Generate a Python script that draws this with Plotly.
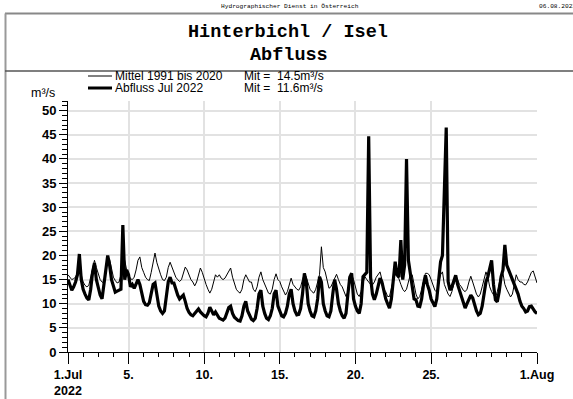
import plotly.graph_objects as go
import pandas as pd

# ---------------- data (3-hourly: 0,3,6,9,12,15,18,21 h) ----------------
abfluss_2022_rows = [
    [15, 14, 12.8, 13.5, 14.5, 16, 20.3, 15],        # 1.Jul
    [13, 12, 11.2, 10.8, 13, 16.5, 18.4, 15],
    [13, 11.8, 11, 13.5, 17, 20, 18, 15],
    [13.5, 12.4, 12.6, 12.8, 13, 26.3, 15, 17],
    [16, 13.5, 14, 13.2, 14, 15, 14, 12],           # 5.
    [10.5, 9.8, 9.7, 10.2, 12, 14, 14.3, 11.5],
    [9.5, 8.5, 8, 8.5, 11, 14.5, 15.5, 14.3],
    [14.3, 13, 11.8, 11, 11.5, 11.8, 10.5, 9],
    [8.2, 7.7, 7.5, 8, 8.5, 8.9, 8.3, 7.8],
    [7.5, 7.3, 8, 9.3, 8.5, 7.7, 8.3, 7.5],          # 10.
    [7, 6.8, 6.6, 7, 8, 9.2, 9.5, 8],
    [7.2, 6.8, 6.5, 6.4, 7.5, 9.5, 10.5, 8.5],
    [7.5, 6.8, 6.5, 7, 9, 12, 12.8, 9.5],
    [8, 7, 6.7, 7.5, 9, 12, 12.8, 9.5],
    [8.5, 7.5, 7.3, 8, 9.5, 12, 13, 10],             # 15.
    [8.5, 7.7, 7.8, 9, 12, 16.3, 14.5, 10],
    [8.5, 7.5, 7.3, 8.5, 11, 15.6, 14.5, 10],
    [8.5, 7.5, 7.3, 8.5, 12, 15, 13, 10],
    [8.5, 7.5, 7, 8, 12, 15.5, 16.3, 11],
    [9.5, 8.5, 8, 10, 15.6, 16, 16.5, 44.7],         # 20.
    [15.5, 12, 10.8, 12, 13.5, 15.3, 14.5, 12.5],
    [11, 10, 9.1, 11, 15, 18.7, 16, 15.5],
    [23.2, 15, 18, 40, 19, 16, 13, 11],
    [10.8, 9.5, 9.4, 11, 14, 15.9, 14, 12.8],
    [11, 10, 9.4, 11, 15, 18.7, 20, 36],             # 25.
    [46.5, 14.6, 12.8, 13.5, 14.5, 15.9, 14, 12.8],
    [11.5, 10, 9.1, 10, 11, 11.8, 11.2, 9.5],
    [8.5, 7.7, 8, 9.5, 12, 14.5, 15.6, 17],
    [19, 14, 10.8, 10.4, 12.5, 15.6, 17, 22.2],
    [18, 17, 16, 15, 14, 13.2, 12, 10.5],
    [9.5, 9, 8.3, 8.5, 9.4, 9.5, 8.8, 8.3],
]
abfluss_2022_end = 8.0

mittel_rows = [
    [16, 15.5, 15, 15.2, 15.5, 16.5, 17.6, 16],
    [14.5, 13.8, 13.5, 13.8, 15.5, 17.5, 19, 17.5],
    [16, 15, 14.5, 14.3, 17, 19.5, 19.2, 17],
    [15.5, 14.8, 14.3, 14.5, 16, 18.5, 19, 17],
    [16, 15.2, 15, 15.5, 17, 19, 19.7, 17.5],
    [16.5, 15.5, 15, 14.8, 16.5, 19, 20.5, 18.5],
    [17, 16, 15, 14.8, 15.5, 17.5, 18.6, 17.5],
    [16.5, 15.5, 15, 14.6, 15, 16.5, 17.6, 17],
    [16, 15, 14.5, 13.7, 14.5, 16, 17.4, 16.5],
    [15, 14, 13, 12.2, 13, 14.5, 16, 15.5],
    [16, 15.3, 15, 15.3, 16, 16.8, 17.4, 15.5],
    [14, 13, 12.5, 12.2, 13, 15, 16, 15.2],
    [14.5, 14.5, 13, 12.5, 13.5, 15.5, 16.6, 15],
    [14, 13, 12.2, 12, 13, 15, 16.2, 15],
    [14.6, 13.5, 12.5, 11.8, 12.5, 14, 15.3, 14],
    [13.5, 13, 12.8, 13.5, 15, 16.3, 15.5, 14],
    [13, 12.5, 12.2, 13, 14.5, 16, 21.8, 17.5],
    [16.6, 14.5, 13.2, 13.5, 14.5, 15.5, 16.1, 15],
    [14, 13.5, 12.5, 11.5, 12.5, 14.5, 16, 15],
    [13.5, 12, 11.5, 12.5, 14.5, 15.6, 15, 14.5],
    [14, 13.9, 14.5, 15.5, 16.2, 16.6, 15, 13],
    [12.5, 11.5, 11.5, 13, 15, 16.6, 16.3, 15],
    [14, 13, 12.5, 13, 14.5, 16, 16, 14],
    [12, 11, 11.5, 13, 15, 16.3, 16.3, 16],
    [15, 14, 12.8, 12.4, 14, 16, 16.6, 14],
    [13, 12, 11.5, 12.5, 14, 15.5, 15, 14],
    [13.5, 12.8, 12.5, 13, 14.5, 15.7, 14.5, 13],
    [12, 11.4, 12, 13.5, 15, 16.6, 15.5, 13.5],
    [12.5, 11.8, 11.2, 12.5, 14.5, 16, 16.3, 14],
    [13, 12, 11.4, 12, 14, 16, 15, 14.5],
    [14.5, 14, 13.9, 14.5, 15.5, 16.5, 16.8, 15.5],
]
mittel_end = 14.3

mean_mittel = 14.5
mean_2022 = 11.6

x_tickvals = ["2022-07-01", "2022-07-05", "2022-07-10", "2022-07-15",
              "2022-07-20", "2022-07-25", "2022-08-01"]
x_ticktext = ["1.Jul<br>2022", "5.", "10.", "15.", "20.", "25.", "1.Aug"]

# ---------------- build ----------------
W, H = 573, 399
def px(x): return x / W
def py(y): return 1 - y / H

times = pd.date_range("2022-07-01", "2022-08-01", freq="3h")
abfluss = [v for r in abfluss_2022_rows for v in r] + [abfluss_2022_end]
mittel = [v for r in mittel_rows for v in r] + [mittel_end]

fig = go.Figure()
fig.add_trace(go.Scatter(x=times, y=mittel, mode="lines",
                         line=dict(color="black", width=1), name="Mittel 1991 bis 2020"))
fig.add_trace(go.Scatter(x=times, y=abfluss, mode="lines",
                         line=dict(color="black", width=3.2), name="Abfluss Jul 2022"))

grid = "#e2e2e2"
fig.update_layout(
    width=W, height=H, margin=dict(l=0, r=0, t=0, b=0),
    paper_bgcolor="white", plot_bgcolor="white", showlegend=False,
    font=dict(family="Liberation Sans, Arial", color="black"),
    xaxis=dict(type="date", range=["2022-07-01", "2022-08-01"],
               domain=[px(68), px(537)], automargin=False,
               tickmode="array", tickvals=x_tickvals, ticktext=x_ticktext,
               ticks="outside", ticklen=11, tickcolor="black", tickwidth=1,
               tickfont=dict(size=12.5, weight="bold"),
               showline=True, linecolor="black", linewidth=1,
               showgrid=True, gridcolor=grid, gridwidth=1.5, zeroline=False,
               minor=dict(dtick=86400000, tick0="2022-07-01", ticks="outside",
                          ticklen=4, tickcolor="black", showgrid=False)),
    yaxis=dict(range=[0, 52], domain=[py(352), py(101)], automargin=False,
               tickmode="linear", tick0=0, dtick=5,
               ticks="outside", ticklen=8, tickcolor="black", tickwidth=1,
               tickfont=dict(size=13, weight="bold"),
               showline=True, linecolor="black", linewidth=1,
               showgrid=True, gridcolor=grid, gridwidth=1.5, zeroline=False,
               minor=dict(dtick=1, tick0=0, ticks="outside", ticklen=5,
                          tickcolor="black", showgrid=False)),
)

shapes = [
    dict(type="line", xref="paper", yref="paper", x0=px(5), x1=1.02, y0=py(13.5), y1=py(13.5),
         line=dict(color="#888888", width=2)),
    dict(type="line", xref="paper", yref="paper", x0=px(5.5), x1=px(5.5), y0=py(13.5), y1=-0.02,
         line=dict(color="#999999", width=2)),
    dict(type="line", xref="paper", yref="paper", x0=px(5), x1=1.02, y0=py(71), y1=py(71),
         line=dict(color="#555555", width=1.5)),
    dict(type="line", xref="paper", yref="paper", x0=px(88), x1=px(112), y0=py(76), y1=py(76),
         line=dict(color="black", width=1)),
    dict(type="line", xref="paper", yref="paper", x0=px(88), x1=px(112), y0=py(88), y1=py(88),
         line=dict(color="black", width=3)),
]
fig.update_layout(shapes=shapes)

def ann(text, x, y, size, family="Liberation Sans", xanchor="left"):
    fig.add_annotation(text=text, x=px(x), y=py(y), xref="paper", yref="paper",
                       xanchor=xanchor, yanchor="middle", showarrow=False, borderpad=0,
                       font=dict(family=family, size=size, color="black"))

ann("Hydrographischer Dienst in Österreich", 290, 6, 6.2, "Liberation Mono", "center")
ann("06.08.2022 11:15", 538, 6, 6.2, "Liberation Mono", "left")
ann("<b>Hinterbichl / Isel</b>", 288, 33, 18.5, "Liberation Mono", "center")
ann("<b>Abfluss</b>", 289, 55, 18.5, "Liberation Mono", "center")
ann("Mittel 1991 bis 2020", 114, 76, 12)
ann("Abfluss Jul 2022", 114, 88, 12)
ann(f"Mit =\u00a0 {mean_mittel}m³/s", 243, 76, 12)
ann(f"Mit =\u00a0 {mean_2022}m³/s", 243, 88, 12)
ann("m³/s", 30, 93, 12.5)

fig.write_html("out.html")
